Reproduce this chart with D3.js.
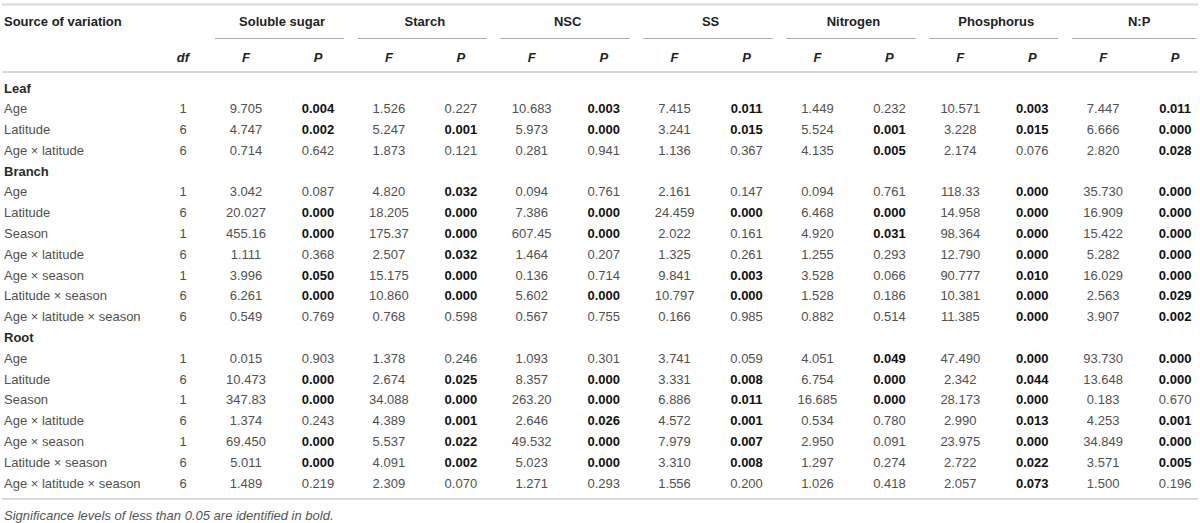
<!DOCTYPE html>
<html>
<head>
<meta charset="utf-8">
<script src="https://cdn.jsdelivr.net/npm/d3@7"></script>
<style>
  body { margin: 0; background: #fff; }
  svg text { font-family: "Liberation Sans", Arial, Helvetica, sans-serif; font-size: 13px; }
</style>
</head>
<body>
<svg id="svg"></svg>
<script>
// ****************************************
// Data

var sections = ['Leaf', 'Branch', 'Root'];
var sectionRows = [3, 7, 7];

var sources = [
  'Age', 'Latitude', 'Age × latitude',
  'Age', 'Latitude', 'Season', 'Age × latitude', 'Age × season', 'Latitude × season', 'Age × latitude × season',
  'Age', 'Latitude', 'Season', 'Age × latitude', 'Age × season', 'Latitude × season', 'Age × latitude × season'
];
var df = [1, 6, 6, 1, 6, 1, 6, 1, 6, 6, 1, 6, 1, 6, 1, 6, 6];

var measures = ['Soluble sugar', 'Starch', 'NSC', 'SS', 'Nitrogen', 'Phosphorus', 'N:P'];

var sugarF = [9.705, 4.747, 0.714, 3.042, 20.027, 455.16, 1.111, 3.996, 6.261, 0.549, 0.015, 10.473, 347.83, 1.374, 69.450, 5.011, 1.489];
var sugarP = [0.004, 0.002, 0.642, 0.087, 0.000, 0.000, 0.368, 0.050, 0.000, 0.769, 0.903, 0.000, 0.000, 0.243, 0.000, 0.000, 0.219];
var starchF = [1.526, 5.247, 1.873, 4.820, 18.205, 175.37, 2.507, 15.175, 10.860, 0.768, 1.378, 2.674, 34.088, 4.389, 5.537, 4.091, 2.309];
var starchP = [0.227, 0.001, 0.121, 0.032, 0.000, 0.000, 0.032, 0.000, 0.000, 0.598, 0.246, 0.025, 0.000, 0.001, 0.022, 0.002, 0.070];
var nscF = [10.683, 5.973, 0.281, 0.094, 7.386, 607.45, 1.464, 0.136, 5.602, 0.567, 1.093, 8.357, 263.20, 2.646, 49.532, 5.023, 1.271];
var nscP = [0.003, 0.000, 0.941, 0.761, 0.000, 0.000, 0.207, 0.714, 0.000, 0.755, 0.301, 0.000, 0.000, 0.026, 0.000, 0.000, 0.293];
var ssF = [7.415, 3.241, 1.136, 2.161, 24.459, 2.022, 1.325, 9.841, 10.797, 0.166, 3.741, 3.331, 6.886, 4.572, 7.979, 3.310, 1.556];
var ssP = [0.011, 0.015, 0.367, 0.147, 0.000, 0.161, 0.261, 0.003, 0.000, 0.985, 0.059, 0.008, 0.011, 0.001, 0.007, 0.008, 0.200];
var nitrogenF = [1.449, 5.524, 4.135, 0.094, 6.468, 4.920, 1.255, 3.528, 1.528, 0.882, 4.051, 6.754, 16.685, 0.534, 2.950, 1.297, 1.026];
var nitrogenP = [0.232, 0.001, 0.005, 0.761, 0.000, 0.031, 0.293, 0.066, 0.186, 0.514, 0.049, 0.000, 0.000, 0.780, 0.091, 0.274, 0.418];
var phosF = [10.571, 3.228, 2.174, 118.33, 14.958, 98.364, 12.790, 90.777, 10.381, 11.385, 47.490, 2.342, 28.173, 2.990, 23.975, 2.722, 2.057];
var phosP = [0.003, 0.015, 0.076, 0.000, 0.000, 0.000, 0.000, 0.010, 0.000, 0.000, 0.000, 0.044, 0.000, 0.013, 0.000, 0.022, 0.073];
var npF = [7.447, 6.666, 2.820, 35.730, 16.909, 15.422, 5.282, 16.029, 2.563, 3.907, 93.730, 13.648, 0.183, 4.253, 34.849, 3.571, 1.500];
var npP = [0.011, 0.000, 0.028, 0.000, 0.000, 0.000, 0.000, 0.000, 0.029, 0.002, 0.000, 0.000, 0.670, 0.001, 0.000, 0.005, 0.196];

// cells printed in bold in the source although P >= 0.05 ([measure, row])
var boldExtra = [['Phosphorus', 16]];

var footnote = 'Significance levels of less than 0.05 are identified in bold.';

var fValues = [sugarF, starchF, nscF, ssF, nitrogenF, phosF, npF];
var pValues = [sugarP, starchP, nscP, ssP, nitrogenP, phosP, npP];

// ****************************************
// Layout

var width = 1200, height = 523;
var left = 2, right = 1198;
var textColor = '#505050', boldColor = '#111', headColor = '#222';

var svg = d3.select('#svg').attr('width', width).attr('height', height);

// printed lines: section titles + source rows
var lines = [];
var r = 0;
sections.forEach((s, i) => {
  lines.push({ type: 'section', label: s });
  d3.range(sectionRows[i]).forEach(() => { lines.push({ type: 'row', idx: r }); r++; });
});

var y = d3.scalePoint().domain(d3.range(lines.length)).range([88, 483]);
var xGroup = d3.scaleBand().domain(measures).range([208, 1208]);
var xSub = d3.scalePoint().domain(['F', 'P']).range([38, 110]);
var xDf = 183;

var fmtF = v => v >= 100 ? d3.format('.2f')(v) : d3.format('.3f')(v);
var fmtP = d3.format('.3f');
var isBold = (m, i, p) => p <= 0.05 || boldExtra.some(b => b[0] === m && b[1] === i);

// ****************************************
// Rules

var rule = (yy, w, c, x1, x2) => svg.append('line')
  .attr('x1', x1 === undefined ? left : x1).attr('x2', x2 === undefined ? right : x2)
  .attr('y1', yy).attr('y2', yy)
  .style('stroke', c).style('stroke-width', w);

rule(4.5, 2, '#d9d9d9');
rule(72, 2, '#d9d9d9');
rule(499, 2, '#d9d9d9');

measures.forEach(m => {
  rule(38.5, 1, '#a8a8a8', xGroup(m) + 7, Math.min(xGroup(m) + xGroup.bandwidth() - 7, right - 2));
});

// ****************************************
// Header

var g = svg.append('g');

g.append('text').attr('x', 4).attr('y', 21).attr('dominant-baseline', 'central')
  .style('font-weight', 'bold').style('fill', headColor).text('Source of variation');

measures.forEach(m => {
  g.append('text').attr('x', xGroup(m) + (xSub('F') + xSub('P')) / 2).attr('y', 21)
    .attr('dominant-baseline', 'central').attr('text-anchor', 'middle')
    .style('font-weight', 'bold').style('fill', headColor).text(m);
  ['F', 'P'].forEach(k => {
    g.append('text').attr('x', xGroup(m) + xSub(k)).attr('y', 57)
      .attr('dominant-baseline', 'central').attr('text-anchor', 'middle')
      .style('font-weight', 'bold').style('font-style', 'italic').style('fill', headColor).text(k);
  });
});

g.append('text').attr('x', xDf).attr('y', 57).attr('dominant-baseline', 'central').attr('text-anchor', 'middle')
  .style('font-weight', 'bold').style('font-style', 'italic').style('fill', headColor).text('df');

// ****************************************
// Body

lines.forEach((ln, li) => {
  var yy = y(li);
  if (ln.type === 'section') {
    g.append('text').attr('x', 4).attr('y', yy).attr('dominant-baseline', 'central')
      .style('font-weight', 'bold').style('fill', '#2a2a2a').text(ln.label);
    return;
  }
  var i = ln.idx;
  g.append('text').attr('x', 4).attr('y', yy).attr('dominant-baseline', 'central')
    .style('fill', textColor).text(sources[i]);
  g.append('text').attr('x', xDf).attr('y', yy).attr('dominant-baseline', 'central').attr('text-anchor', 'middle')
    .style('fill', textColor).text(df[i]);
  measures.forEach((m, mi) => {
    var f = fValues[mi][i], p = pValues[mi][i];
    g.append('text').attr('x', xGroup(m) + xSub('F')).attr('y', yy)
      .attr('dominant-baseline', 'central').attr('text-anchor', 'middle')
      .style('fill', textColor).text(fmtF(f));
    var b = isBold(m, i, p);
    g.append('text').attr('x', xGroup(m) + xSub('P')).attr('y', yy)
      .attr('dominant-baseline', 'central').attr('text-anchor', 'middle')
      .style('font-weight', b ? 'bold' : 'normal').style('fill', b ? boldColor : textColor).text(fmtP(p));
  });
});

// ****************************************
// Footnote

g.append('text').attr('x', 4).attr('y', 515).attr('dominant-baseline', 'central')
  .style('font-style', 'italic').style('fill', '#555').text(footnote);
</script>
</body>
</html>
